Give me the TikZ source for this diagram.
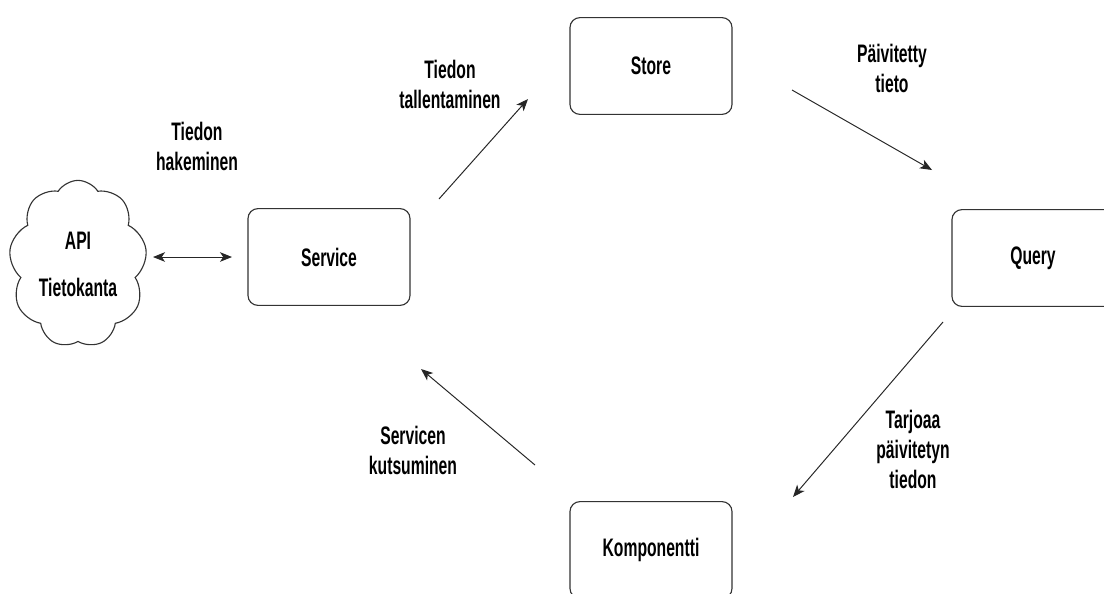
\documentclass[tikz,border=0pt]{standalone}
\usepackage{fontspec}
\setmainfont{Liberation Sans}[FakeStretch=0.62]
\usetikzlibrary{positioning,shapes,arrows.meta}

\begin{document}
\begin{tikzpicture}[x=0.025cm, y=-0.025cm, font=\fontsize{18}{21.3}\selectfont\bfseries,
		tip/.tip={Stealth[length=0.3cm,width=0.24cm,inset=0.08cm]},
		flow/.style={draw=black!85,line width=0.7pt,-tip}]
		\clip (0,0) rectangle (1104,593);
		\begin{scope}[every node/.style={rectangle,rounded corners=0.25cm,draw=black!80,line width=0.8pt, minimum width=4.05cm, minimum height=2.42cm}]
			\node (service) at (329,257) {Service};
			\node (store) at (651,66) {Store};
			\node (query) at (1033,258) {Query};
			\node (komp) at (651,550) {Komponentti};
		\end{scope}
		\node[cloud, cloud puffs=9, cloud puff arc=115, draw=black!80, line width=0.8pt, minimum width=3.45cm, minimum height=4.18cm, inner sep=0pt, align=center] (api) at (78,264) {API\\[0.425cm]Tietokanta};
		\begin{scope}[every node/.style={align=center}]
			\node (hak) at (197,146) {Tiedon\\hakeminen};
			\node (tall) at (450,84) {Tiedon\\tallentaminen};
			\node (paiv) at (892,68) {Päivitetty\\tieto};
			\node (tarj) at (913,449) {Tarjoaa\\päivitetyn\\tiedon};
			\node (kuts) at (413,450) {Servicen\\kutsuminen};
		\end{scope}
		\coordinate (api-r) at (153,257);
		\coordinate (service-l) at (232,257);
		\coordinate (service-ne) at (439,199);
		\coordinate (store-sw) at (528,99);
		\coordinate (store-e) at (792,90);
		\coordinate (query-nw) at (932,170);
		\coordinate (query-sw) at (943,322);
		\coordinate (komp-ne) at (793,497);
		\coordinate (komp-nw) at (535,465);
		\coordinate (service-se) at (421,369);
		\draw[flow,tip-tip] (api-r) -- (service-l);
		\draw[flow] (service-ne) -- (store-sw);
		\draw[flow] (store-e) -- (query-nw);
		\draw[flow] (query-sw) -- (komp-ne);
		\draw[flow] (komp-nw) -- (service-se);
\end{tikzpicture}
\end{document}
